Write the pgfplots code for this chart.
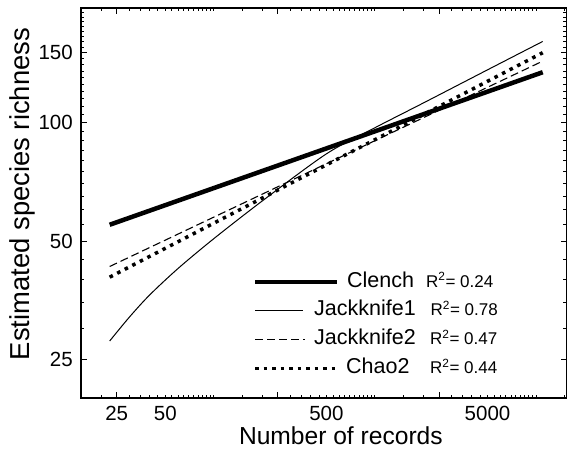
\documentclass[border=0pt]{standalone}
\usepackage{pgfplots}
\pgfplotsset{compat=1.18}
\usepackage{fontspec}
\setmainfont{Liberation Sans}
\pgfplotsset{legimg/.style={legend image code/.code={\draw[##1,overlay] (0pt,0pt)--(#1,0pt); \path[draw=none,fill=none] (0pt,-2pt) (48pt,2pt);}}}
\begin{document}
\begin{tikzpicture}
\begin{axis}[name=ax,
 scale only axis, width=485.7pt, height=390pt,
 xmode=log, ymode=log, xmin=15, xmax=15500, ymin=20, ymax=195,
 axis line style={line width=1.1pt},
 tick align=inside, major tick length=6pt, minor tick length=3.5pt,
 every tick/.style={line width=0.9pt, black},
 xtick={25,250,2500}, xticklabels={},
 extra x ticks={25,50,500,5000}, extra x tick labels={25,50,500,5000},
 extra x tick style={major tick length=3.5pt},
 minor xtick={15,20,25,30,35,40,45,50,55,60,65,70,75,80,85,90,95,100,150,200,250,300,350,400,450,500,550,600,650,700,750,800,850,900,950,1000,1500,2000,2500,3000,3500,4000,4500,5000,5500,6000,6500,7000,7500,8000,8500,9000,9500,10000,15000},
 ytick={25,50,100,150}, yticklabels={25,50,100,150},
 minor ytick={20,25,30,35,40,45,50,55,60,65,70,75,80,85,90,95,100,105,110,115,120,125,130,135,140,145,150,155,160,165,170,175,180,185,190,195},
 /pgf/number format/assume math mode=true,
 tick label style={font=\fontsize{20.5}{24}\selectfont},
 xticklabel style={inner sep=0pt, yshift=-7.5pt},
 yticklabel style={inner sep=0pt, xshift=-8pt},
 xlabel={Number of records}, ylabel={Estimated species richness},
 xlabel style={font=\fontsize{24.6}{30}\selectfont, at={(axis description cs:0.535,-0.0974)}, anchor=center},
 ylabel style={font=\fontsize{27.4}{32}\selectfont, at={(axis description cs:-0.1215,0.523)}, anchor=center},
 legend cell align=left,
 legend style={draw=none, fill=none, inner sep=0pt, at={(0.3582,0.3231)}, anchor=north west,
   row sep=8.7pt, column sep=11pt, font=\fontsize{21.5}{25}\selectfont,
   nodes={inner sep=0pt, text height=15pt, text depth=5pt, anchor=west}},
]
\addplot[black, line width=4.5pt, legimg=82pt]
  coordinates {(22.6,55) (11000,134)};
\addlegendentry{\makebox[112pt][l]{\hspace{33pt}Clench}{\fontsize{17}{20}\selectfont R\textsuperscript{2}= 0.24}}
\addplot[black, line width=1pt, smooth, legimg=48pt]
  coordinates {(22.6,27.9) (30,32.1) (40,36.5) (60,42.6) (100,50.7) (200,63.2) (500,83.2) (1000,96.9) (2000,112.0) (5000,135.9) (11000,160.4)};
\addlegendentry{\makebox[116.5pt][l]{Jackknife1}{\fontsize{17}{20}\selectfont R\textsuperscript{2}= 0.78}}
\addplot[black, line width=1.1pt, dash pattern=on 8pt off 4pt, legimg=50pt]
  coordinates {(22.6,43.1) (11000,143)};
\addlegendentry{\makebox[116pt][l]{Jackknife2}{\fontsize{17}{20}\selectfont R\textsuperscript{2}= 0.47}}
\addplot[black, line width=3.5pt, dash pattern=on 3.5pt off 5pt, legimg=80pt]
  coordinates {(22.6,40.5) (11000,150.2)};
\addlegendentry{\makebox[116pt][l]{\hspace{32pt}Chao2}{\fontsize{17}{20}\selectfont R\textsuperscript{2}= 0.44}}
\end{axis}
\path ([xshift=-81pt,yshift=-58pt]ax.south west) rectangle ([xshift=3.3pt,yshift=8pt]ax.north east);
\end{tikzpicture}
\end{document}
